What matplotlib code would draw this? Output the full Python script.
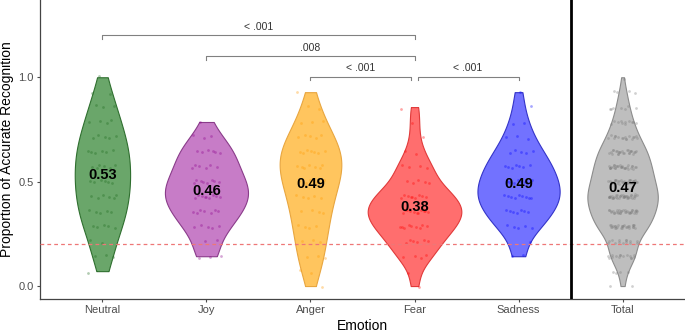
import numpy as np
import matplotlib.pyplot as plt

plt.rcParams['font.family'] = ['Liberation Sans', 'DejaVu Sans']

categories = ["Neutral", "Joy", "Anger", "Fear", "Sadness", "Total"]

# possible scores (k correct out of 14)
levels = [k / 14 for k in range(15)]

# participants at each score level
neutral_n = [0, 1, 3, 2, 5, 5, 6, 6, 6, 6, 5, 4, 3, 2, 1]
joy_n = [0, 0, 3, 2, 5, 7, 9, 8, 6, 6, 3, 1, 0, 0, 0]
anger_n = [1, 2, 3, 3, 4, 4, 5, 6, 7, 7, 5, 3, 2, 1, 0]
fear_n = [1, 1, 4, 6, 9, 11, 9, 5, 4, 2, 1, 1, 1, 0, 0]
sadness_n = [0, 0, 2, 1, 5, 7, 9, 8, 7, 5, 3, 2, 1, 1, 0]

chance = 0.2

# pairwise comparisons: (from, to, label)
comparisons = [(1, 4, "< .001"), (2, 4, ".008"), (3, 4, "< .001"), (4, 5, "< .001")]
bracket_y = [1.20, 1.10, 1.0, 1.0]

fills = ["#6aa66a", "#c77cc7", "#ffc55e", "#ff6e6e", "#7272ff", "#bebebe"]
edges = ["#2f6f2f", "#8a3c8a", "#e8a640", "#e03a3a", "#3434c8", "#8c8c8c"]
dots = ["#1f6a1f", "#8b008b", "#ff9a00", "#ff0000", "#0000ff", "#7a7a7a"]

groups = []
for counts in [neutral_n, joy_n, anger_n, fear_n, sadness_n]:
    groups.append(np.repeat(levels, counts))
groups.append(np.concatenate(groups))


def kde(d, grid):
    n = len(d)
    iqr = np.subtract(*np.percentile(d, [75, 25]))
    bw = 0.9 * min(d.std(ddof=1), iqr / 1.34) * n ** -0.2
    z = (grid[:, None] - d[None, :]) / bw
    return np.exp(-0.5 * z ** 2).sum(axis=1) / (n * bw * np.sqrt(2 * np.pi))


fig = plt.figure(figsize=(6.85, 3.34), dpi=100)
ax = fig.add_axes([40 / 685, 35 / 334, 645 / 685, 299 / 334])

shapes = []
for d in groups:
    grid = np.linspace(d.min(), d.max(), 512)
    shapes.append((grid, kde(d, grid)))
scale = 0.45 / max(s[1].max() for s in shapes)

j = 0
for i, (d, (grid, dens)) in enumerate(zip(groups, shapes)):
    pos = i + 1
    ax.fill_betweenx(grid, pos - dens * scale, pos + dens * scale,
                     facecolor=fills[i], edgecolor=edges[i], linewidth=0.8, zorder=2)
    xs, ys = [], []
    for v in d:
        xs.append(pos + ((j * 0.6180339887) % 1 - 0.5) * 0.28)
        ys.append(v + ((j * 0.7548776662) % 1 - 0.5) * 0.02)
        j += 1
    ax.scatter(xs, ys, s=4, color=dots[i], alpha=0.35, linewidths=0, zorder=3)
    ax.text(pos, d.mean(), f"{d.mean():.2f}", ha="center", va="center",
            fontsize=10.5, fontweight="bold", color="black", zorder=5)

ax.axhline(chance, color="#ee7777", linestyle=(0, (3, 2.5)), linewidth=0.9, zorder=4)
ax.axvline(5.5, color="black", linewidth=2, zorder=4)

for (a, b, lab), y in zip(comparisons, bracket_y):
    x0, x1 = a, b
    if y == 1.0 and b == 4:
        x1 = b - 0.03
    if y == 1.0 and a == 4:
        x0 = a + 0.03
    ax.plot([x0, x0, x1, x1], [y - 0.015, y, y, y - 0.015], color="#808080", linewidth=0.8)
    ax.text((x0 + x1) / 2, y + 0.018, lab, ha="center", va="bottom", fontsize=7.5, color="#333333")

ax.set_xlim(0.4, 6.6)
ax.set_ylim(-0.062, 1.37)
ax.set_xticks(range(1, 7))
ax.set_xticklabels(categories)
ax.set_yticks([0.0, 0.5, 1.0])
ax.set_yticklabels(["0.0", "0.5", "1.0"])
ax.tick_params(colors="#4d4d4d", labelsize=8, length=2.5, width=0.8, pad=2)
for side in ["top", "right"]:
    ax.spines[side].set_visible(False)
for side in ["left", "bottom"]:
    ax.spines[side].set_color("#444444")
    ax.spines[side].set_linewidth(0.9)
ax.set_xlabel("Emotion", fontsize=10, labelpad=3)
ax.set_ylabel("Proportion of Accurate Recognition", fontsize=10, labelpad=3)

fig.savefig("out.png", dpi=100)
